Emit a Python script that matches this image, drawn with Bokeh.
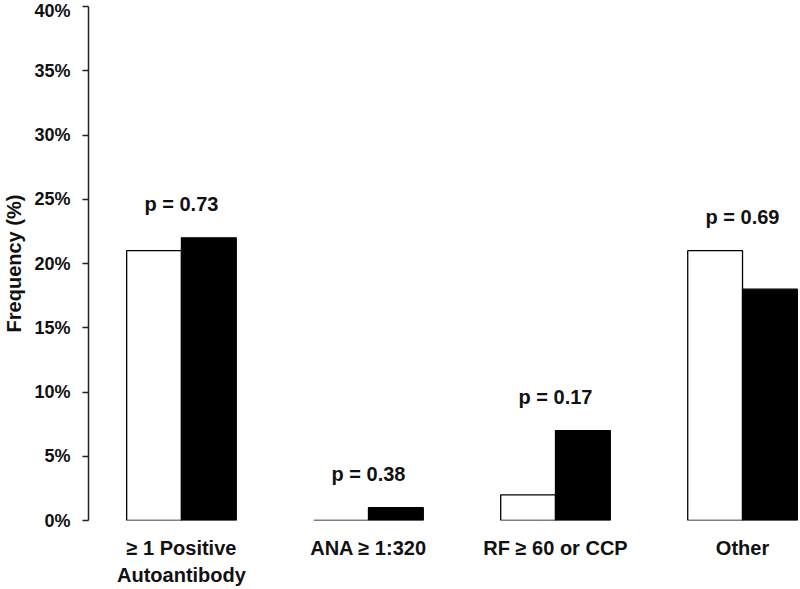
from bokeh.plotting import figure
from bokeh.models import Range1d, FixedTicker, ColumnDataSource
from bokeh.core.properties import value
from bokeh.embed import file_html
from bokeh.resources import INLINE

categories = ["≥ 1 Positive\nAutoantibody", "ANA ≥ 1:320", "RF ≥ 60 or CCP", "Other"]
group_a = [21, 0, 2, 21]   # white bars
group_b = [22, 1, 7, 18]   # black bars
p_labels = ["p = 0.73", "p = 0.38", "p = 0.17", "p = 0.69"]
y_ticks = [0, 5, 10, 15, 20, 25, 30, 35, 40]
y_tick_labels = ["0%", "5%", "10%", "15%", "20%", "25%", "30%", "35%", "40%"]

FONT = "Liberation Sans"
pos = [i + 1 for i in range(len(categories))]
bw = 0.293

p = figure(width=800, height=589, output_backend="svg", toolbar_location=None,
           x_range=Range1d(0.503, 4.31), y_range=Range1d(0, 40),
           min_border_left=88, min_border_right=0, min_border_top=6, min_border_bottom=66)
p.outline_line_color = None
p.grid.visible = False
p.background_fill_color = "white"

src = ColumnDataSource(dict(
    xa=[x - bw / 2 for x in pos], xb=[x + bw / 2 for x in pos],
    a=group_a, b=group_b, x=pos,
    ly=[max(a, b) + 2.6 for a, b in zip(group_a, group_b)], lab=p_labels))

p.vbar(x="xa", top="a", bottom=0, width=bw, source=src, fill_color="white",
       line_color="black", line_width=1.3)
p.vbar(x="xb", top="b", bottom=0, width=bw, source=src, fill_color="black",
       line_color="black", line_width=1.3)
p.text(x="x", y="ly", text="lab", source=src, text_align="center",
       text_baseline="middle", text_font=value(FONT), text_font_style="bold",
       text_font_size="20px", text_color="#111111")

ya = p.yaxis[0]
ya.ticker = FixedTicker(ticks=y_ticks)
ya.major_label_overrides = {t: l for t, l in zip(y_ticks, y_tick_labels)}
ya.minor_tick_line_color = None
ya.major_tick_in = 0
ya.major_tick_out = 6
ya.axis_line_width = 1.5
ya.major_tick_line_width = 1.5
ya.axis_line_color = "#222222"
ya.major_tick_line_color = "#222222"
ya.major_label_standoff = 12
ya.major_label_text_font = FONT
ya.major_label_text_font_style = "bold"
ya.major_label_text_font_size = "18px"
ya.major_label_text_color = "#111111"
ya.axis_label = "Frequency (%)"
ya.axis_label_text_font = FONT
ya.axis_label_text_font_style = "bold"
ya.axis_label_text_font_size = "20px"
ya.axis_label_text_color = "#111111"
ya.axis_label_standoff = 6

xa = p.xaxis[0]
xa.ticker = FixedTicker(ticks=pos)
xa.major_label_overrides = {x: c for x, c in zip(pos, categories)}
xa.axis_line_color = None
xa.major_tick_line_color = None
xa.minor_tick_line_color = None
xa.major_label_standoff = 10
xa.major_label_text_font = FONT
xa.major_label_text_font_style = "bold"
xa.major_label_text_font_size = "20px"
xa.major_label_text_line_height = 1.25
xa.major_label_text_color = "#111111"

open("out.html", "w").write(file_html(p, INLINE))
